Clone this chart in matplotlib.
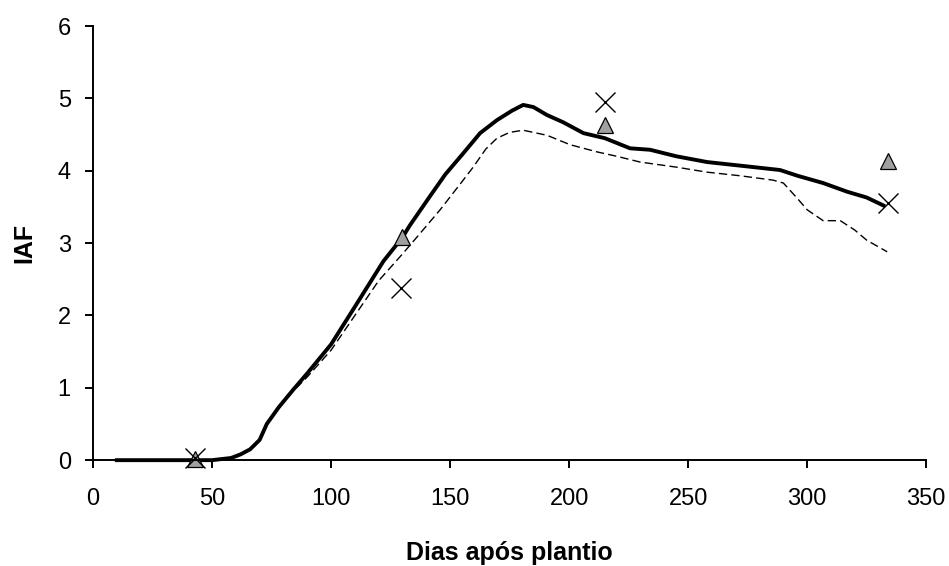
import matplotlib
matplotlib.use("Agg")
import matplotlib.pyplot as plt

# simulado 1 (linha cheia)
dias_sim1 = [10, 20, 30, 40, 50, 58, 62, 66, 70, 73, 78, 84, 90, 100, 110, 122, 130, 133,
             141.6, 148, 155.5, 162.6, 169.7, 176, 180.7, 185, 190.7, 197.5, 206, 215,
             225.6, 234, 245, 258, 272, 288.6, 296, 306.7, 316.8, 325, 332]
iaf_sim1 = [0, 0, 0, 0, 0, 0.03, 0.08, 0.15, 0.28, 0.5, 0.73, 0.97, 1.2, 1.6, 2.12, 2.75, 3.08, 3.24,
            3.65, 3.95, 4.24, 4.52, 4.70, 4.83, 4.91, 4.88, 4.77, 4.67, 4.52, 4.45,
            4.31, 4.29, 4.2, 4.12, 4.07, 4.01, 3.93, 3.83, 3.71, 3.63, 3.52]

# simulado 2 (tracejada)
dias_sim2 = [10, 20, 30, 40, 50, 58, 62, 66, 70, 73, 78, 84, 90, 100, 110, 120, 130, 136,
             145.8, 155.5, 159.7, 165, 169.7, 175, 180.7, 190.7, 200.4, 211.8, 220, 229.8,
             245, 258, 272, 285.7, 290, 295.8, 300, 306.7, 313.9, 320, 325, 333.6]
iaf_sim2 = [0, 0, 0, 0, 0, 0.03, 0.08, 0.15, 0.28, 0.5, 0.72, 0.95, 1.15, 1.52, 2.0, 2.48, 2.85, 3.08,
            3.46, 3.87, 4.05, 4.3, 4.45, 4.53, 4.56, 4.49, 4.36, 4.26, 4.2, 4.12,
            4.05, 3.98, 3.93, 3.87, 3.83, 3.62, 3.46, 3.31, 3.31, 3.18, 3.04, 2.88]

# observados
dias_obs1 = [43, 130, 215, 334]
iaf_obs1 = [0.02, 3.08, 4.63, 4.13]
dias_obs2 = [43, 129.5, 215, 334]
iaf_obs2 = [0.03, 2.38, 4.95, 3.56]

xticks = [0, 50, 100, 150, 200, 250, 300, 350]
yticks = [0, 1, 2, 3, 4, 5, 6]

plt.rcParams['font.family'] = ['Liberation Sans', 'DejaVu Sans']

fig = plt.figure(figsize=(9.49, 5.66), dpi=100)
ax = fig.add_axes([0.098, 0.187, 0.878, 0.767])

ax.plot(dias_sim2, iaf_sim2, color='black', lw=1.0, ls=(0, (6, 3)))
ax.plot(dias_sim1, iaf_sim1, color='black', lw=2.8)
ax.plot(dias_obs1, iaf_obs1, ls='none', marker='^', ms=11, mfc='#a0a0a0', mec='black', mew=0.9)
ax.plot(dias_obs2, iaf_obs2, ls='none', marker='x', ms=14, color='black', mew=1.0)

ax.set_xlim(0, 350)
ax.set_ylim(0, 6)
ax.set_xticks(xticks)
ax.set_yticks(yticks)
for s in ['top', 'right']:
    ax.spines[s].set_visible(False)
for s in ['left', 'bottom']:
    ax.spines[s].set_linewidth(1.4)
ax.tick_params(axis='both', direction='out', length=6, width=1.4, labelsize=17)
ax.tick_params(axis='x', pad=14)
ax.tick_params(axis='y', pad=10)

ax.set_xlabel('Dias após plantio', fontsize=18, fontweight='bold', va='center')
ax.xaxis.set_label_coords(0.5, -0.214)
ax.set_ylabel('IAF', fontsize=18, fontweight='bold', va='center')
ax.yaxis.set_label_coords(-0.082, 0.5)

for line in ax.lines:
    line.set_clip_on(False)

fig.savefig('out.png', dpi=100)
